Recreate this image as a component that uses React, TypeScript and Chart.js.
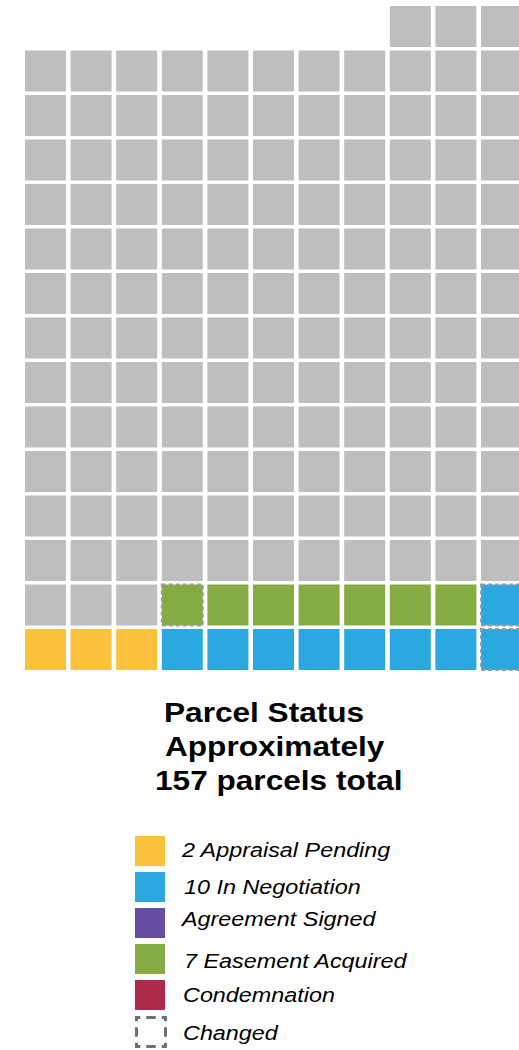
import React, { useEffect, useRef } from 'react';
import { Chart, registerables } from 'chart.js';

Chart.register(...registerables);

// Waffle grid: one string per row, bottom row first, one letter per parcel, '.' = empty slot
// P = Appraisal Pending, N = In Negotiation, S = Agreement Signed, E = Easement Acquired,
// C = Condemnation, R = remaining (no status yet)
const waffleRows = [
  'PPPNNNNNNNN',
  'RRREEEEEEEN',
  'RRRRRRRRRRR',
  'RRRRRRRRRRR',
  'RRRRRRRRRRR',
  'RRRRRRRRRRR',
  'RRRRRRRRRRR',
  'RRRRRRRRRRR',
  'RRRRRRRRRRR',
  'RRRRRRRRRRR',
  'RRRRRRRRRRR',
  'RRRRRRRRRRR',
  'RRRRRRRRRRR',
  'RRRRRRRRRRR',
  '........RRR',
];
const statusCodes = ['P', 'N', 'S', 'E', 'C', 'R'];
const statusNames = [
  'Appraisal Pending',
  'In Negotiation',
  'Agreement Signed',
  'Easement Acquired',
  'Condemnation',
  'Remaining',
];
// [column, row] of parcels whose status changed
const changedCells = [
  [4, 2],
  [11, 2],
  [11, 1],
];
const legendLabels = [
  '2 Appraisal Pending',
  '10 In Negotiation',
  'Agreement Signed',
  '7 Easement Acquired',
  'Condemnation',
  'Changed',
];
const legendCodes = ['P', 'N', 'S', 'E', 'C', 'changed'];
const titleLines = ['Parcel Status', 'Approximately', '157 parcels total'];

const COLORS: Record<string, string> = {
  P: '#FDC23D',
  N: '#2BA8E0',
  S: '#654DA0',
  E: '#84AC42',
  C: '#AD2A4A',
  R: '#BDBEC0',
};

const POINT_RADIUS = 29; // rect side = sqrt(2) * radius = 41px
const FONT = '"Liberation Sans", Arial, Helvetica, sans-serif';

export default function App() {
  const canvasRef = useRef<HTMLCanvasElement>(null);

  useEffect(() => {
    const nCols = Math.max(...waffleRows.map((r) => r.length));
    const nRows = waffleRows.length;
    const datasets = statusCodes.map((code, i) => {
      const pts: { x: number; y: number }[] = [];
      waffleRows.forEach((row, r) => {
        for (let c = 0; c < row.length; c++) {
          if (row[c] === code) pts.push({ x: c + 1, y: r + 1 });
        }
      });
      return {
        label: statusNames[i],
        data: pts,
        backgroundColor: COLORS[code],
        pointBackgroundColor: COLORS[code],
        pointBorderWidth: 0,
        borderWidth: 0,
        pointStyle: 'rect' as const,
        pointRadius: POINT_RADIUS,
        pointHoverRadius: POINT_RADIUS,
        clip: false as const,
      };
    });

    const changedPlugin = {
      id: 'changedOutline',
      afterDatasetsDraw(chart: any) {
        const { ctx, scales } = chart;
        const half = POINT_RADIUS * Math.SQRT1_2;
        ctx.save();
        ctx.strokeStyle = '#9C9C9C';
        ctx.lineWidth = 2;
        ctx.setLineDash([4, 3]);
        changedCells.forEach(([c, r]) => {
          const px = scales.x.getPixelForValue(c);
          const py = scales.y.getPixelForValue(r);
          ctx.strokeRect(px - half, py - half, 2 * half, 2 * half);
        });
        ctx.restore();
      },
    };

    const chart = new Chart(canvasRef.current as HTMLCanvasElement, {
      type: 'scatter',
      data: { datasets },
      options: {
        animation: false,
        responsive: false,
        events: [],
        layout: {
          autoPadding: false,
          padding: { left: 22.7, right: 5.7, top: 4.25, bottom: 8.25 },
        },
        scales: {
          x: { type: 'linear', min: 0.5, max: nCols + 0.5, display: false },
          y: { type: 'linear', min: 0.5, max: nRows + 0.5, display: false },
        },
        plugins: {
          legend: { display: false },
          tooltip: { enabled: false },
          title: { display: false },
        },
      },
      plugins: [changedPlugin],
    } as any);
    return () => chart.destroy();
  }, []);

  const titleLefts = [164, 165, 155];
  const legendTextOffsets = [4, 4.6, 1.3, 7, 5, 6.6];
  const legendTextLefts = [182, 183.5, 182, 183.5, 183, 183];

  return (
    <div
      style={{
        position: 'absolute',
        left: 0,
        top: 0,
        width: 519,
        height: 1050,
        overflow: 'hidden',
        background: '#ffffff',
      }}
    >
      <div style={{ position: 'absolute', left: 0, top: 0, width: 519, height: 680, overflow: 'hidden' }}>
        <canvas ref={canvasRef} width={530} height={680} style={{ display: 'block', width: 530, height: 680 }} />
      </div>

      {titleLines.map((line, i) => (
        <div
          key={line}
          style={{
            position: 'absolute',
            left: titleLefts[i],
            top: 695.7 + i * 34,
            fontFamily: FONT,
            fontWeight: 700,
            fontSize: 27,
            lineHeight: '34px',
            whiteSpace: 'pre',
            color: '#000',
            transform: 'scaleX(1.17)',
            transformOrigin: 'left center',
          }}
        >
          {line}
        </div>
      ))}

      {legendLabels.map((label, i) => {
        const code = legendCodes[i];
        const boxTop = 836 + i * 36;
        return (
          <React.Fragment key={label}>
            {code === 'changed' ? (
              <svg
                style={{ position: 'absolute', left: 133, top: boxTop - 2 }}
                width={35}
                height={35}
              >
                <rect
                  x={3.5}
                  y={3.5}
                  width={29}
                  height={29}
                  fill="none"
                  stroke="#707070"
                  strokeWidth={3}
                  strokeDasharray="7.5 6 9.5 6"
                  strokeDashoffset={3.75}
                />
              </svg>
            ) : (
              <div
                style={{
                  position: 'absolute',
                  left: 135,
                  top: boxTop,
                  width: 30,
                  height: 30,
                  background: COLORS[code],
                }}
              />
            )}
            <div
              style={{
                position: 'absolute',
                left: legendTextLefts[i],
                top: boxTop + legendTextOffsets[i],
                fontFamily: FONT,
                fontStyle: 'italic',
                fontSize: 20.5,
                lineHeight: '20.5px',
                whiteSpace: 'pre',
                color: '#000',
                transform: 'scaleX(1.14)',
                transformOrigin: 'left center',
              }}
            >
              {label}
            </div>
          </React.Fragment>
        );
      })}
    </div>
  );
}
